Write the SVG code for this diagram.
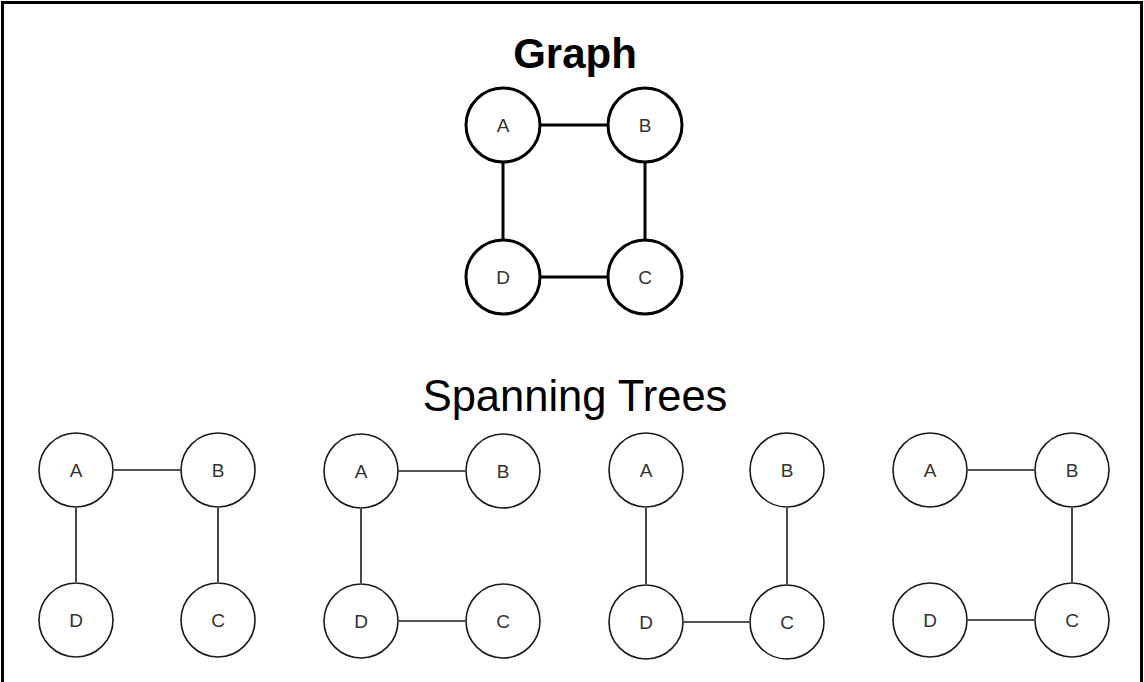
<svg xmlns="http://www.w3.org/2000/svg" width="1144" height="682" viewBox="0 0 1144 682">
<style>
.frame{fill:none;stroke:#000;stroke-width:3}
.big circle{fill:#fff;stroke:#000;stroke-width:3}
.small circle{fill:#fff;stroke:#1a1a1a;stroke-width:1.6}
.lbl{font-family:"Liberation Sans",Arial,sans-serif;font-size:19px;fill:#333;text-anchor:middle}
.eb line{stroke:#000;stroke-width:3}
.es line{stroke:#1a1a1a;stroke-width:1.6}
.title{font-family:"Liberation Sans",Arial,sans-serif;font-weight:bold;font-size:42px;text-anchor:middle;fill:#000}
.sub{font-family:"Liberation Sans",Arial,sans-serif;font-weight:300;font-size:43.5px;text-anchor:middle;fill:#000}
</style>
<rect width="1144" height="682" fill="#fff"/>
<path class="frame" d="M2.5,682 V2.5 H1141.5 V682"/>
<text class="title" x="575" y="68">Graph</text>
<text class="sub" x="575" y="411">Spanning Trees</text>
<g id="connectors">
<g class="eb">
<line x1="541" y1="125" x2="607" y2="125"/>
<line x1="503" y1="163" x2="503" y2="239"/>
<line x1="645" y1="163" x2="645" y2="239"/>
<line x1="541" y1="277" x2="607" y2="277"/>
</g>
<g class="es">
<line x1="114" y1="470" x2="180" y2="470"/>
<line x1="76" y1="508" x2="76" y2="582"/>
<line x1="218" y1="508" x2="218" y2="582"/>
<line x1="399" y1="471" x2="465" y2="471"/>
<line x1="361" y1="509" x2="361" y2="583"/>
<line x1="399" y1="621" x2="465" y2="621"/>
<line x1="646" y1="508" x2="646" y2="584"/>
<line x1="787" y1="508" x2="787" y2="584"/>
<line x1="684" y1="622" x2="749" y2="622"/>
<line x1="968" y1="470" x2="1034" y2="470"/>
<line x1="1072" y1="508" x2="1072" y2="582"/>
<line x1="968" y1="620" x2="1034" y2="620"/>
</g>
</g>
<g class="big">
<g id="g-A"><circle cx="503" cy="125" r="37"/><text class="lbl" x="503" y="132">A</text></g>
<g id="g-B"><circle cx="645" cy="125" r="37"/><text class="lbl" x="645" y="132">B</text></g>
<g id="g-D"><circle cx="503" cy="277" r="37"/><text class="lbl" x="503" y="284">D</text></g>
<g id="g-C"><circle cx="645" cy="277" r="37"/><text class="lbl" x="645" y="284">C</text></g>
</g>
<g class="small">
<g id="t1-A"><circle cx="76" cy="470" r="37"/><text class="lbl" x="76" y="477">A</text></g>
<g id="t1-B"><circle cx="218" cy="470" r="37"/><text class="lbl" x="218" y="477">B</text></g>
<g id="t1-D"><circle cx="76" cy="620" r="37"/><text class="lbl" x="76" y="627">D</text></g>
<g id="t1-C"><circle cx="218" cy="620" r="37"/><text class="lbl" x="218" y="627">C</text></g>
<g id="t2-A"><circle cx="361" cy="471" r="37"/><text class="lbl" x="361" y="478">A</text></g>
<g id="t2-B"><circle cx="503" cy="471" r="37"/><text class="lbl" x="503" y="478">B</text></g>
<g id="t2-D"><circle cx="361" cy="621" r="37"/><text class="lbl" x="361" y="628">D</text></g>
<g id="t2-C"><circle cx="503" cy="621" r="37"/><text class="lbl" x="503" y="628">C</text></g>
<g id="t3-A"><circle cx="646" cy="470" r="37"/><text class="lbl" x="646" y="477">A</text></g>
<g id="t3-B"><circle cx="787" cy="470" r="37"/><text class="lbl" x="787" y="477">B</text></g>
<g id="t3-D"><circle cx="646" cy="622" r="37"/><text class="lbl" x="646" y="629">D</text></g>
<g id="t3-C"><circle cx="787" cy="622" r="37"/><text class="lbl" x="787" y="629">C</text></g>
<g id="t4-A"><circle cx="930" cy="470" r="37"/><text class="lbl" x="930" y="477">A</text></g>
<g id="t4-B"><circle cx="1072" cy="470" r="37"/><text class="lbl" x="1072" y="477">B</text></g>
<g id="t4-D"><circle cx="930" cy="620" r="37"/><text class="lbl" x="930" y="627">D</text></g>
<g id="t4-C"><circle cx="1072" cy="620" r="37"/><text class="lbl" x="1072" y="627">C</text></g>
</g>
</svg>
